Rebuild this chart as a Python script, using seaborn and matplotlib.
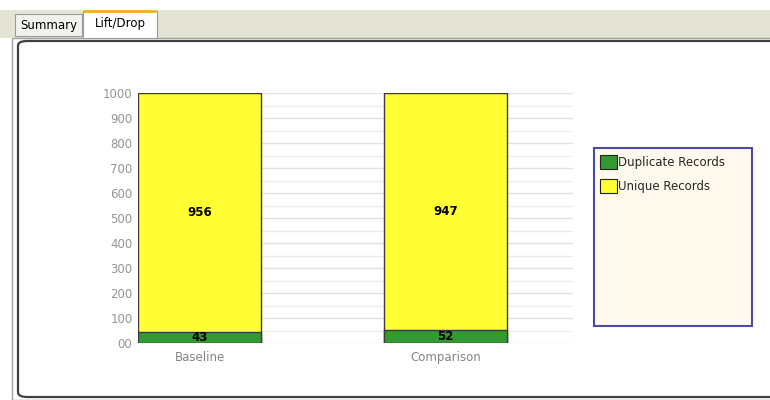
import matplotlib
matplotlib.use("Agg")
import matplotlib.pyplot as plt
from matplotlib.patches import FancyBboxPatch, Rectangle, Patch
import seaborn as sns
import pandas as pd

# Data
categories = ["Baseline", "Comparison"]
duplicate = [43, 52]
unique = [956, 947]
y_ticks = [0, 100, 200, 300, 400, 500, 600, 700, 800, 900, 1000]
y_tick_labels = ["00", "100", "200", "300", "400", "500", "600", "700", "800", "900", "1000"]
series_names = ["Duplicate Records", "Unique Records"]
tab_names = ["Summary", "Lift/Drop"]

GREEN = "#339933"
YELLOW = "#FFFF33"
EDGE = "#3a3a3a"

sns.set_theme(style="white")
plt.rcParams["font.family"] = ["DejaVu Sans"]

W, H = 770, 400
fig = plt.figure(figsize=(W / 100, H / 100), dpi=100)
fig.patch.set_facecolor("white")


def fx(x):
    return x / W


def fy(y):
    return 1 - y / H


# Tab strip background
fig.add_artist(Rectangle((fx(0), fy(38)), 1, fy(10) - fy(38), transform=fig.transFigure,
                         facecolor="#E4E4D6", edgecolor="none", zorder=0))
# Outer tab control border
fig.add_artist(Rectangle((fx(12), fy(400)), 1, fy(38) - fy(400), transform=fig.transFigure,
                         facecolor="white", edgecolor="#A0A0A0", lw=1.0, zorder=0.5))
# Tabs
fig.add_artist(Rectangle((fx(15), fy(36)), fx(82) - fx(15), fy(14) - fy(36), transform=fig.transFigure,
                         facecolor="#F2F2EC", edgecolor="#9A9A9A", lw=0.8, zorder=1))
fig.add_artist(Rectangle((fx(83), fy(38)), fx(157) - fx(83), fy(11) - fy(38), transform=fig.transFigure,
                         facecolor="white", edgecolor="#9A9A9A", lw=0.8, zorder=1.2))
fig.add_artist(Rectangle((fx(84), fy(13)), fx(156) - fx(84), fy(10) - fy(13), transform=fig.transFigure,
                         facecolor="#F5B030", edgecolor="none", zorder=1.3))
fig.text(fx(49), fy(26), tab_names[0], ha="center", va="center", fontsize=8.5, color="black")
fig.text(fx(120), fy(24), tab_names[1], ha="center", va="center", fontsize=8.5, color="black")

# Panel frame
fig.add_artist(FancyBboxPatch((fx(18), fy(397)), fx(790) - fx(18), fy(41) - fy(397),
                              boxstyle="round,pad=0,rounding_size=0.012", transform=fig.transFigure,
                              facecolor="white", edgecolor="#404040", lw=1.6, zorder=1.5))

# Chart axes
ax = fig.add_axes([fx(138), fy(343), fx(573) - fx(138), fy(93) - fy(343)])
ax.set_zorder(3)
ax.patch.set_alpha(0)

df = pd.DataFrame({"category": categories, "duplicate": duplicate, "unique": unique})
df["total"] = df["duplicate"] + df["unique"]

for v in range(0, 1001, 50):
    ax.axhline(v, color="#E2E2E2" if v % 100 == 0 else "#EDEDED", lw=1.0, zorder=0)

sns.barplot(data=df, x="category", y="total", color=YELLOW, saturation=1, width=0.5,
            edgecolor=EDGE, linewidth=1.0, ax=ax, zorder=2)
sns.barplot(data=df, x="category", y="duplicate", color=GREEN, saturation=1, width=0.5,
            edgecolor=EDGE, linewidth=1.0, ax=ax, zorder=3)

for i, (d, u) in enumerate(zip(duplicate, unique)):
    ax.text(i, d / 2, str(d), ha="center", va="center", fontsize=8.5, fontweight="bold", color="black", zorder=5)
    ax.text(i, d + u / 2, str(u), ha="center", va="center", fontsize=8.5, fontweight="bold", color="black", zorder=5)

ax.set_xlim(-0.25, 1.518)
ax.set_ylim(0, 1000)
ax.set_yticks(y_ticks)
ax.set_yticklabels(y_tick_labels, color="#959595", fontsize=8.5)
ax.tick_params(axis="y", length=0, pad=4)
ax.tick_params(axis="x", length=0, pad=6, labelsize=8.5, labelcolor="#858585")
ax.set_xlabel("")
ax.set_ylabel("")
for s in ax.spines.values():
    s.set_visible(False)

# Legend box
fig.add_artist(Rectangle((fx(594), fy(326)), fx(752) - fx(594), fy(148) - fy(326), transform=fig.transFigure,
                         facecolor="#FFF9EE", edgecolor="#4B4BA5", lw=1.5, zorder=4))
handles = [Patch(facecolor=GREEN, edgecolor="#222222", lw=0.8),
           Patch(facecolor=YELLOW, edgecolor="#222222", lw=0.8)]
fig.legend(handles, series_names, loc="upper left", bbox_to_anchor=(fx(598), fy(153)),
           frameon=False, fontsize=8.5, handlelength=1.4, handleheight=1.4,
           handletextpad=0.12, labelspacing=0.85, borderpad=0.2, borderaxespad=0)

fig.savefig("out.png", dpi=100)
